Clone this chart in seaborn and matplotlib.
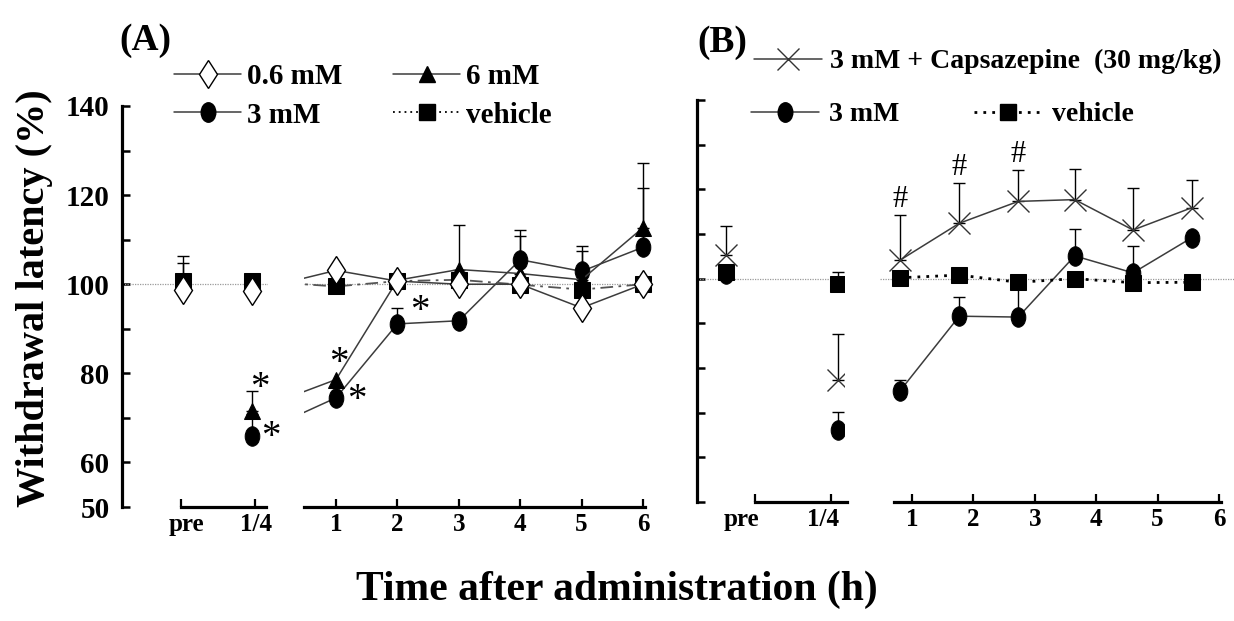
import numpy as np
import pandas as pd
import seaborn as sns
import matplotlib.pyplot as plt
from matplotlib.path import Path
from matplotlib.lines import Line2D

sns.set_theme(style='ticks')
plt.rcParams['font.family'] = ['Liberation Serif', 'DejaVu Serif']
plt.rcParams['font.weight'] = 'bold'
plt.rcParams.update({'text.color': 'black', 'axes.labelcolor': 'black',
                     'xtick.color': 'black', 'ytick.color': 'black',
                     'axes.edgecolor': 'black'})

times = ['pre', '1/4', '1', '2', '3', '4', '5', '6']

# (A) withdrawal latency (% of pre value)
a_06mM = [98.6, 98.5, 103.1, 100.7, 100.0, 100.0, 94.7, 100.0]
a_3mM = [100.2, 65.9, 74.5, 91.1, 91.8, 105.5, 102.9, 108.3]
a_6mM = [100.5, 71.5, 78.6, 100.9, 103.3, 102.4, 101.0, 112.7]
a_vehicle = [100.8, 100.8, 99.5, 100.7, 101.0, 99.9, 98.8, 100.0]
# upper SEM (nan = no bar drawn)
a_3mM_err = [np.nan, 5.0, np.nan, 3.6, np.nan, 6.6, 5.6, 13.2]
a_6mM_err = [4.2, 4.6, np.nan, np.nan, 10.0, 8.5, 6.4, 14.6]
a_vehicle_err = [5.6, np.nan, np.nan, np.nan, np.nan, np.nan, np.nan, np.nan]

# (B)
b_cpz = [105.3, 77.4, 104.1, 112.4, 117.3, 117.7, 110.9, 115.9]
b_cpz_err = [6.4, 10.2, 10.2, 9.0, 7.0, 6.9, 9.4, 6.1]
b_3mM = [101.0, 66.2, 74.8, 91.6, 91.4, 105.1, 101.3, 109.2]
b_3mM_err = [np.nan, 3.9, 2.6, 4.4, 8.2, 6.0, 6.1, np.nan]
b_vehicle = [101.5, 98.9, 100.2, 100.8, 99.2, 100.0, 99.1, 99.2]
b_vehicle_err = [np.nan, 2.5, np.nan, np.nan, np.nan, np.nan, np.nan, np.nan]

# x position of each time point on the (broken) hour axis
xpos_a = [-1.5, -0.37, 1, 2, 3, 4, 5, 6]
xpos_b = [-2.03, -0.2, 0.80, 1.77, 2.73, 3.65, 4.60, 5.56]

# significance marks: (series, time index, dx pt, dy pt)
a_stars = [('6mM', 1, 6, 16), ('3mM', 1, 14, -1), ('6mM', 2, 2, 11.5),
           ('3mM', 2, 15, -2), ('3mM', 3, 16, 9)]
b_hash = [2, 3, 4]

W, H = 1234, 621
PXH = 61.4  # pixels per hour
LINE = '#3c3c3c'

fig = plt.figure(figsize=(W / 100, H / 100), dpi=100)

circ = Path.unit_circle()
ELLIPSE = Path(circ.vertices * np.array([0.75, 1.0]), circ.codes)


def px_axes(x0, x1, y0, y1, one_px):
    ax = fig.add_axes([x0 / W, 1 - y1 / H, (x1 - x0) / W, (y1 - y0) / H])
    ax.set_xlim((x0 - one_px) / PXH + 1, (x1 - one_px) / PXH + 1)
    ax.set_ylim(50, 140)
    ax.patch.set_alpha(0)
    ax.xaxis.remove_overlapping_locs = False
    for s in ['top', 'right']:
        ax.spines[s].set_visible(False)
    ax.spines['bottom'].set_linewidth(2.3)
    ax.spines['left'].set_linewidth(2.3)
    ax.tick_params(which='both', direction='in', colors='black')
    ax.tick_params(axis='x', which='major', length=0, labelsize=18, pad=4)
    ax.tick_params(axis='x', which='minor', length=6, width=1.6)
    ax.tick_params(axis='y', length=6, width=1.8, labelsize=21, pad=9)
    ax.axhline(100, color='#9a9a9a', lw=0.9, ls=(0, (1, 1)), zorder=1)
    return ax


def series_specs(panel):
    if panel == 'A':
        return [
            ('3mM', a_3mM, a_3mM_err, dict(marker=ELLIPSE, ms=14, mfc='black', mec='black', color=LINE, lw=1.1, ls='-')),
            ('6mM', a_6mM, a_6mM_err, dict(marker='^', ms=11, mfc='black', mec='black', color=LINE, lw=1.1, ls='-')),
            ('veh', a_vehicle, a_vehicle_err, dict(marker='s', ms=11, mfc='black', mec='black', color='#555555', lw=1.3, ls=(0, (7, 3, 1.5, 3)))),
            ('06mM', a_06mM, [np.nan] * 8, dict(marker='d', ms=14.5, mfc='white', mec='black', mew=1.0, color=LINE, lw=1.1, ls='-')),
        ]
    return [
        ('3mM', b_3mM, b_3mM_err, dict(marker=ELLIPSE, ms=14, mfc='black', mec='black', color=LINE, lw=1.1, ls='-')),
        ('veh', b_vehicle, b_vehicle_err, dict(marker='s', ms=11, mfc='black', mec='black', color='black', lw=2.0, ls=(0, (1, 2.2)))),
        ('cpz', b_cpz, b_cpz_err, dict(marker='x', ms=16, mfc='none', mec='#333333', mew=1.0, color=LINE, lw=1.1, ls='-')),
    ]


def draw(ax, panel, xpos, part):
    for key, vals, err, style in series_specs(panel):
        df = pd.DataFrame({'x': xpos, 'y': vals, 'err': err, 't': times})
        if part == 'right' and panel == 'B':
            df = df.iloc[2:]
        st = dict(style)
        if part == 'left':
            st['ls'] = 'none'
        sns.lineplot(data=df, x='x', y='y', ax=ax, estimator=None, sort=False,
                     zorder=3, **st)
        e = df.dropna(subset=['err'])
        ax.errorbar(e['x'], e['y'], yerr=[np.zeros(len(e)), e['err']], fmt='none',
                    ecolor='black', elinewidth=1.0, capsize=4.5, capthick=1.0, zorder=2)
    ax.set_xlabel('')
    ax.set_ylabel('')


def panel(left_px, one_px, y0, y1, xpos, name, ylabels, seg_left, seg_right, pre_lab, quarter_lab):
    axl = px_axes(left_px, one_px - 68, y0, y1, one_px)
    right_end = W if name == 'B' else one_px + 317
    axr = px_axes(one_px - 32, right_end, y0, y1, one_px)
    # left part: y axis + pre, 1/4
    axl.spines['bottom'].set_bounds(*seg_left)
    axl.set_xticks([pre_lab, quarter_lab])
    axl.set_xticklabels(times[:2])
    axl.set_xticks([seg_left[0], -0.32], minor=True)
    axl.set_yticks(np.arange(50, 141, 10))
    axl.set_yticklabels([str(v) if v in ylabels else '' for v in range(50, 141, 10)])
    # right part: hours 1-6
    axr.spines['left'].set_visible(False)
    axr.spines['bottom'].set_bounds(*seg_right)
    axr.set_xticks(range(1, 7))
    axr.set_xticklabels(times[2:])
    axr.set_xticks(range(1, 7), minor=True)
    axr.set_yticks([])
    draw(axl, name, xpos, 'left')
    draw(axr, name, xpos, 'right')
    return axl, axr


axAl, axAr = panel(122, 336, 106, 507, xpos_a, 'A', [50, 60, 80, 100, 120, 140],
                   (-1.52, -0.14), (0.48, 6.03), -1.44, -0.31)
axBl, axBr = panel(697, 912, 100, 502, xpos_b, 'B', [],
                   (-1.56, -0.06), (0.71, 6.03), -1.77, -0.45)

# significance marks
a_series = {'3mM': a_3mM, '6mM': a_6mM}
for key, i, dx, dy in a_stars:
    ax = axAl if i < 2 else axAr
    ax.annotate('*', xy=(xpos_a[i], a_series[key][i]), xytext=(dx, dy),
                textcoords='offset points', ha='center', va='center',
                fontsize=28, fontweight='normal', annotation_clip=False)
for i in b_hash:
    axBr.annotate('#', xy=(xpos_b[i], b_cpz[i] + b_cpz_err[i]), xytext=(0, 11),
                  textcoords='offset points', ha='center', va='center',
                  fontsize=22, fontweight='normal', annotation_clip=False)


# legends
def handle(style):
    return Line2D([], [], **style)


specA = {k: s for k, _, _, s in series_specs('A')}
specB = {k: s for k, _, _, s in series_specs('B')}
vehA = dict(specA['veh'], color='black', lw=1.3, ls=(0, (1, 2.2)))
fig.legend([handle(specA['06mM']), handle(specA['3mM']), handle(specA['6mM']), handle(vehA)],
           ['0.6 mM', '3 mM', '6 mM', 'vehicle'], ncol=2, loc='upper left',
           bbox_to_anchor=(174 / W, 1 - 63 / H), frameon=False, fontsize=21,
           handlelength=2.3, handletextpad=0.2, columnspacing=1.75, labelspacing=0.4,
           borderpad=0, borderaxespad=0)
fig.legend([handle(specB['cpz'])], ['3 mM + Capsazepine  (30 mg/kg)'], loc='upper left',
           bbox_to_anchor=(754 / W, 1 - 49 / H), frameon=False, fontsize=20,
           handlelength=2.45, handletextpad=0.3, borderpad=0, borderaxespad=0)
fig.legend([handle(specB['3mM']), handle(specB['veh'])], ['3 mM', 'vehicle'], ncol=2,
           loc='upper left', bbox_to_anchor=(751 / W, 1 - 102 / H), frameon=False,
           fontsize=20, handlelength=2.45, handletextpad=0.35, columnspacing=2.7,
           borderpad=0, borderaxespad=0)

fig.text(145 / W, 1 - 40 / H, '(A)', fontsize=27, ha='center', va='center')
fig.text(722 / W, 1 - 43 / H, '(B)', fontsize=27, ha='center', va='center')
fig.text(35 / W, 1 - 298 / H, 'Withdrawal latency (%)', rotation=90, fontsize=29,
         ha='center', va='center')
fig.text(617 / W, 1 - 590 / H, 'Time after administration (h)', fontsize=30,
         ha='center', va='center')

fig.savefig('out.png', dpi=100)
